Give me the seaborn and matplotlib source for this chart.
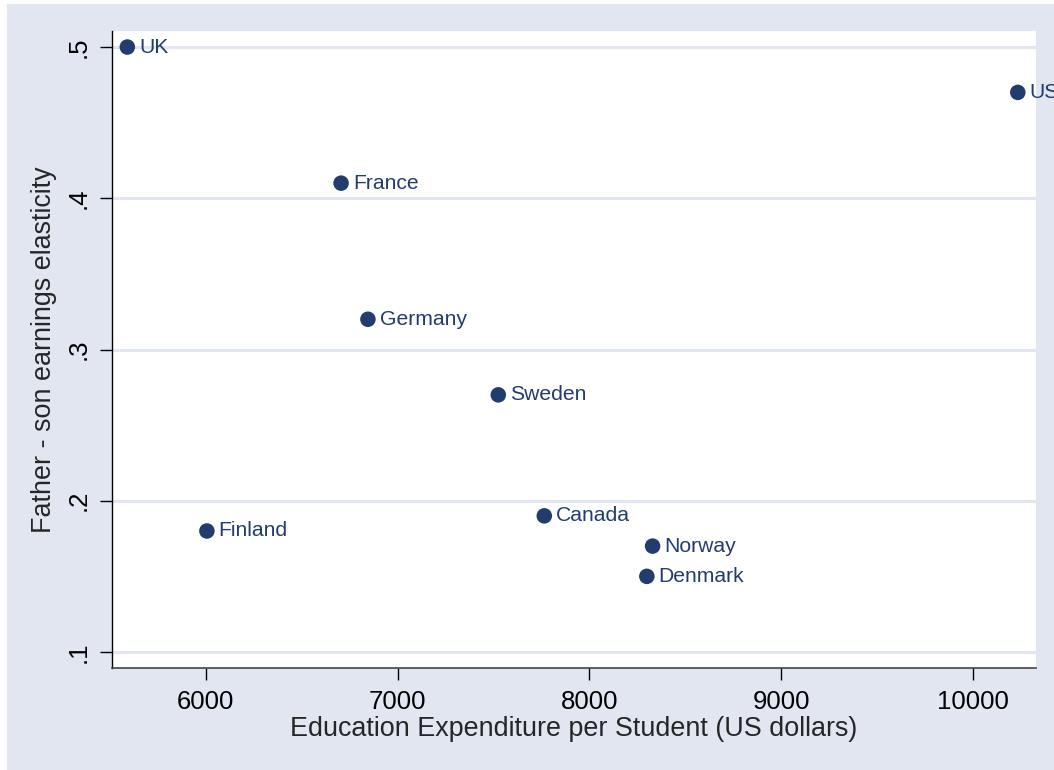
import numpy as np
import pandas as pd
import seaborn as sns
import matplotlib.pyplot as plt
from matplotlib.patches import Rectangle

countries = ['UK', 'US', 'France', 'Germany', 'Sweden', 'Finland', 'Canada', 'Norway', 'Denmark']
expenditure = [5590, 10235, 6705, 6845, 7525, 6005, 7765, 8330, 8300]
elasticity = [0.50, 0.47, 0.41, 0.32, 0.27, 0.18, 0.19, 0.17, 0.15]

x_ticks = [6000, 7000, 8000, 9000, 10000]
y_ticks = [0.1, 0.2, 0.3, 0.4, 0.5]
y_tick_labels = ['.1', '.2', '.3', '.4', '.5']

df = pd.DataFrame({'country': countries, 'exp': expenditure, 'elas': elasticity})

sns.set_style('white')
plt.rcParams['font.family'] = ['Liberation Sans', 'DejaVu Sans']

navy = '#223C6E'
bg = '#E1E6F0'

fig = plt.figure(figsize=(10.54, 7.70), dpi=100)
fig.patch.set_facecolor('white')
# stata-like outer background, white sliver on top/left only
fig.add_artist(Rectangle((7 / 1054, -0.1), 1.2, 0.1 + 766 / 770, transform=fig.transFigure,
                         facecolor=bg, edgecolor='none', zorder=-10, clip_on=False))

ax = fig.add_axes([112 / 1054, 102 / 770, 924 / 1054, 637 / 770])
ax.set_facecolor('white')

for yv in y_ticks:
    ax.axhline(yv, color=bg, lw=2.2, zorder=0)

sns.scatterplot(data=df, x='exp', y='elas', ax=ax, color=navy, s=125,
                edgecolor='none', zorder=3, legend=False)

for _, r in df.iterrows():
    ax.annotate(r['country'], (r['exp'], r['elas']), xytext=(8.5, 0),
                textcoords='offset points', va='center', ha='left',
                fontsize=15.2, color=navy, annotation_clip=False, clip_on=False)

ax.set_xlim(5510, 10330)
ax.set_ylim(0.0894, 0.5106)
ax.set_xticks(x_ticks)
ax.set_yticks(y_ticks)
ax.set_yticklabels(y_tick_labels, rotation=90, va='center')
ax.tick_params(axis='both', direction='out', length=8.5, width=1, colors='black',
               labelsize=18.5, pad=7, left=True, bottom=True)

for s in ['top', 'right']:
    ax.spines[s].set_visible(False)
ax.spines['left'].set_color('black')
ax.spines['bottom'].set_color('#444444')
ax.spines['left'].set_linewidth(1)
ax.spines['bottom'].set_linewidth(1.2)

ax.set_xlabel('Education Expenditure per Student (US dollars)', fontsize=19.4, labelpad=2)
ax.set_ylabel('Father - son earnings elasticity', fontsize=19.4, labelpad=7)

fig.savefig('out.png', dpi=100)
